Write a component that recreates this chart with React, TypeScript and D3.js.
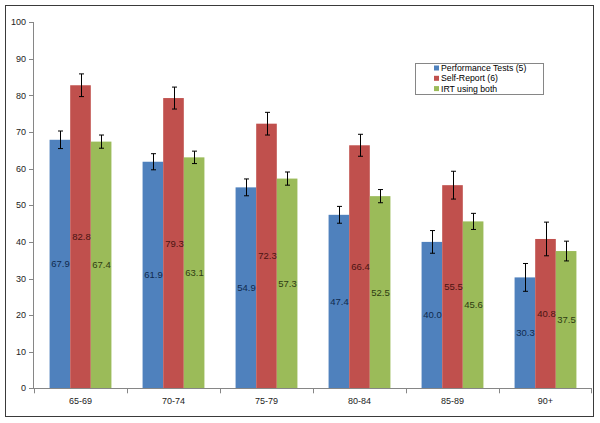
import React from "react";
import * as d3 from "d3";

const categories = ["65-69", "70-74", "75-79", "80-84", "85-89", "90+"];
const seriesNames = ["Performance Tests (5)", "Self-Report (6)", "IRT using both"];
const performance = [67.9, 61.9, 54.9, 47.4, 40.0, 30.3];
const selfReport = [82.8, 79.3, 72.3, 66.4, 55.5, 40.8];
const irtBoth = [67.4, 63.1, 57.3, 52.5, 45.6, 37.5];
const performanceErr = [2.4, 2.2, 2.3, 2.3, 3.1, 3.8];
const selfReportErr = [3.1, 3.0, 3.1, 3.0, 3.8, 4.6];
const irtBothErr = [1.8, 1.7, 1.8, 1.8, 2.2, 2.7];
const yTicks = [0, 10, 20, 30, 40, 50, 60, 70, 80, 90, 100];

const fills = ["#4F81BD", "#C0504D", "#9BBB59"];
const labelColors = ["#0F2A4E", "#4A1412", "#2E3B12"];
const font = "Arial, 'Liberation Sans', sans-serif";

export default function App() {
  const W = 600, H = 423;
  const plotLeft = 34, plotRight = 592, plotTop = 22.3, plotBottom = 388.3;
  const x0 = d3.scaleBand<string>().domain(categories).range([plotLeft, plotRight]).padding(0);
  const y = d3.scaleLinear().domain([0, 100]).range([plotBottom, plotTop]);
  const groupW = x0.bandwidth() * 0.665;
  const x1 = d3.scaleBand<string>().domain(seriesNames).range([0, groupW]).padding(0);
  const values = [performance, selfReport, irtBoth];
  const errs = [performanceErr, selfReportErr, irtBothErr];

  return (
    <svg width={W} height={H} style={{ position: "absolute", left: 0, top: 0 }} fontFamily={font}>
      <rect x={0} y={0} width={W} height={H} fill="#fff" />
      <rect x={5.5} y={5.5} width={588} height={411} fill="none" stroke="#3a3a3a" strokeWidth={1} />
      {/* y axis */}
      <line x1={plotLeft - 0.5} x2={plotLeft - 0.5} y1={plotTop} y2={plotBottom} stroke="#868686" />
      {yTicks.map((t) => (
        <g key={t}>
          <line x1={plotLeft - 5} x2={plotLeft} y1={Math.round(y(t)) + 0.5} y2={Math.round(y(t)) + 0.5} stroke="#868686" />
          <text x={plotLeft - 8} y={y(t)} dy="0.35em" textAnchor="end" fontSize={9} fill="#222">{t}</text>
        </g>
      ))}
      {/* bars */}
      {categories.map((c, ci) => {
        const gx = (x0(c) as number) + (x0.bandwidth() - groupW) / 2;
        return (
          <g key={c}>
            {seriesNames.map((s, si) => {
              const v = values[si][ci];
              const bx = gx + (x1(s) as number);
              const bw = x1.bandwidth();
              return (
                <rect key={s} x={bx} y={y(v)} width={bw} height={y(0) - y(v)} fill={fills[si]} />
              );
            })}
          </g>
        );
      })}
      {/* x axis */}
      <line x1={plotLeft} x2={plotRight} y1={Math.round(plotBottom) + 0.5} y2={Math.round(plotBottom) + 0.5} stroke="#868686" />
      {categories.map((c) => (
        <line key={"t" + c} x1={Math.round(x0(c) as number) + 0.5} x2={Math.round(x0(c) as number) + 0.5}
          y1={plotBottom} y2={plotBottom + 5} stroke="#868686" />
      ))}
      <line x1={plotRight - 0.5} x2={plotRight - 0.5} y1={plotBottom} y2={plotBottom + 5} stroke="#868686" />
      {categories.map((c) => (
        <text key={"l" + c} x={(x0(c) as number) + x0.bandwidth() / 2} y={404} textAnchor="middle" fontSize={9} fill="#222">{c}</text>
      ))}
      {/* error bars and labels */}
      {categories.map((c, ci) => {
        const gx = (x0(c) as number) + (x0.bandwidth() - groupW) / 2;
        return (
          <g key={"e" + c}>
            {seriesNames.map((s, si) => {
              const v = values[si][ci];
              const e = errs[si][ci];
              const cx = Math.round(gx + (x1(s) as number) + x1.bandwidth() / 2) + 0.5;
              return (
                <g key={s}>
                  <line x1={cx} x2={cx} y1={y(v + e)} y2={y(v - e)} stroke="#000" strokeWidth={1} />
                  <line x1={cx - 2.5} x2={cx + 2.5} y1={y(v + e)} y2={y(v + e)} stroke="#000" strokeWidth={1} />
                  <line x1={cx - 2.5} x2={cx + 2.5} y1={y(v - e)} y2={y(v - e)} stroke="#000" strokeWidth={1} />
                  <text x={cx} y={y(v / 2)} dy="0.35em" textAnchor="middle" fontSize={9.5} fill={labelColors[si]}>
                    {v.toFixed(1)}
                  </text>
                </g>
              );
            })}
          </g>
        );
      })}
      {/* legend */}
      <rect x={415.5} y={63.5} width={128} height={31} fill="#fff" stroke="#868686" />
      {seriesNames.map((s, si) => (
        <g key={"lg" + s}>
          <rect x={434} y={65.5 + si * 10.3} width={5} height={5} fill={fills[si]} />
          <text x={441} y={68 + si * 10.3} dy="0.35em" fontSize={8.7} fill="#000">{s}</text>
        </g>
      ))}
    </svg>
  );
}
